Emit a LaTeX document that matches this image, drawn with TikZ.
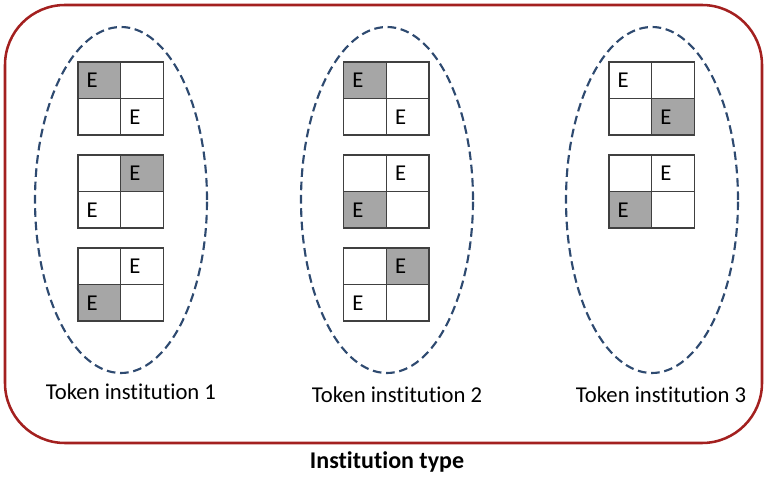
\documentclass[tikz,border=0pt]{standalone}
\usepackage{fontspec}
\setmainfont{Carlito}[Ligatures=NoCommon]
\usetikzlibrary{positioning, shapes.geometric}

\definecolor{typered}{HTML}{A3201F}
\definecolor{setblue}{HTML}{2E4A70}
\definecolor{cellgray}{HTML}{A6A6A6}
\definecolor{cellline}{HTML}{404040}

\begin{document}
\begin{tikzpicture}[
  x=0.75pt, y=-0.75pt,
  cell/.style={rectangle, draw=cellline, line width=1pt, fill=white, outer sep=0pt,
               inner xsep=6.5pt, inner ysep=0pt, text width=19pt, align=left,
               minimum height=27.4pt, font=\fontsize{17}{17}\selectfont},
  ecell/.style={cell, fill=cellgray},
  tokenset/.style={ellipse, draw=setblue, line width=1.6pt, dash pattern=on 6.5pt off 3.5pt,
               minimum width=129pt, minimum height=259.5pt, inner sep=0pt},
  typebox/.style={rectangle, draw=typered, line width=1.9pt, rounded corners=45pt,
               minimum width=567.75pt, minimum height=328.5pt},
  tokenname/.style={font=\fontsize{17}{20}\selectfont}
]
\useasboundingbox (0,0) rectangle (764,477);

% =======================================================
%                     OUTER BOX AND SETS
% =======================================================
\node[typebox] (type) at (383.5,224) {};
\node[font=\fontsize{18}{21}\selectfont\bfseries] (typename) at (387,462) {Institution type};

\node[tokenset] (inst1) at (121,200) {};
\node[tokenset] (inst2) at (387,200) {};
\node[tokenset] (inst3) at (652,200) {};

\node[tokenname] (name1) at (131,392) {Token institution 1};
\node[tokenname] (name2) at (397,395) {Token institution 2};
\node[tokenname] (name3) at (661,395) {Token institution 3};

% =======================================================
%                     TOKEN INSTITUTION 1
% =======================================================
\node[ecell] (g1a-tl) at (99.3,80.3) {E};
\node[cell, right=0pt of g1a-tl] (g1a-tr) {};
\node[cell, below=0pt of g1a-tl] (g1a-bl) {};
\node[cell, below=0pt of g1a-tr] (g1a-br) {E};

\node[cell] (g1b-tl) at (99.3,173.3) {};
\node[ecell, right=0pt of g1b-tl] (g1b-tr) {E};
\node[cell, below=0pt of g1b-tl] (g1b-bl) {E};
\node[cell, below=0pt of g1b-tr] (g1b-br) {};

\node[cell] (g1c-tl) at (99.3,266.3) {};
\node[cell, right=0pt of g1c-tl] (g1c-tr) {E};
\node[ecell, below=0pt of g1c-tl] (g1c-bl) {E};
\node[cell, below=0pt of g1c-tr] (g1c-br) {};

% =======================================================
%                     TOKEN INSTITUTION 2
% =======================================================
\node[ecell] (g2a-tl) at (365,80.3) {E};
\node[cell, right=0pt of g2a-tl] (g2a-tr) {};
\node[cell, below=0pt of g2a-tl] (g2a-bl) {};
\node[cell, below=0pt of g2a-tr] (g2a-br) {E};

\node[cell] (g2b-tl) at (365,173.3) {};
\node[cell, right=0pt of g2b-tl] (g2b-tr) {E};
\node[ecell, below=0pt of g2b-tl] (g2b-bl) {E};
\node[cell, below=0pt of g2b-tr] (g2b-br) {};

\node[cell] (g2c-tl) at (365,266.3) {};
\node[ecell, right=0pt of g2c-tl] (g2c-tr) {E};
\node[cell, below=0pt of g2c-tl] (g2c-bl) {E};
\node[cell, below=0pt of g2c-tr] (g2c-br) {};

% =======================================================
%                     TOKEN INSTITUTION 3
% =======================================================
\node[cell] (g3a-tl) at (630.3,80.3) {E};
\node[cell, right=0pt of g3a-tl] (g3a-tr) {};
\node[cell, below=0pt of g3a-tl] (g3a-bl) {};
\node[ecell, below=0pt of g3a-tr] (g3a-br) {E};

\node[cell] (g3b-tl) at (630.3,173.3) {};
\node[cell, right=0pt of g3b-tl] (g3b-tr) {E};
\node[ecell, below=0pt of g3b-tl] (g3b-bl) {E};
\node[cell, below=0pt of g3b-tr] (g3b-br) {};

\end{tikzpicture}
\end{document}
